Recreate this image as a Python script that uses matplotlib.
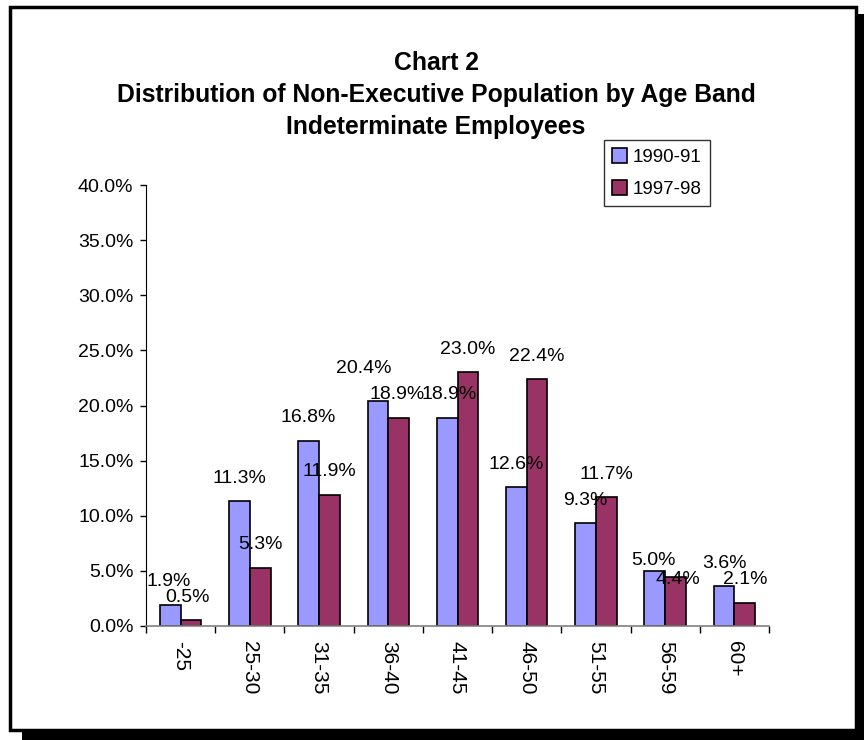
import matplotlib.pyplot as plt
import matplotlib.patches as patches
import numpy as np

plt.rcParams['font.family'] = ['Liberation Sans', 'DejaVu Sans']

bandes = ["-25", "25-30", "31-35", "36-40", "41-45", "46-50", "51-55", "56-59", "60+"]
pct_1990 = [1.9, 11.3, 16.8, 20.4, 18.9, 12.6, 9.3, 5.0, 3.6]
pct_1997 = [0.5, 5.3, 11.9, 18.9, 23.0, 22.4, 11.7, 4.4, 2.1]
series_noms = ["1990-91", "1997-98"]

# decalage des etiquettes (pixels) quand elles ne sont pas juste au-dessus de la barre
decal_1990 = {0: (-2, 24), 3: (-14, 33), 4: (2, 23), 7: (-1, 10)}
decal_1997 = {0: (-3, 23), 3: (-2, 23), 7: (2, -2)}

W, H = 864, 740
fig = plt.figure(figsize=(W / 100, H / 100), dpi=100)

# cadre avec ombre
fig.patches.append(patches.Rectangle((22 / W, 0), (W - 22) / W, 9 / H, transform=fig.transFigure,
                                     facecolor='black', edgecolor='none'))
fig.patches.append(patches.Rectangle((856 / W, 0), 8 / W, (H - 14) / H, transform=fig.transFigure,
                                     facecolor='black', edgecolor='none'))
fig.patches.append(patches.Rectangle((10 / W, 1 - 730 / H), 846 / W, 723 / H, transform=fig.transFigure,
                                     facecolor='none', edgecolor='black', linewidth=2.5))

ax = fig.add_axes([146 / W, 1 - 626 / H, (769 - 146) / W, (626 - 185) / H])

x = np.arange(len(bandes))
larg = 0.3
b1 = ax.bar(x - larg / 2, pct_1990, larg, color='#9999FF', edgecolor='black', linewidth=1.2, label=series_noms[0])
b2 = ax.bar(x + larg / 2, pct_1997, larg, color='#993366', edgecolor='black', linewidth=1.2, label=series_noms[1])

for serie, pos, decal in [(pct_1990, x - larg / 2, decal_1990), (pct_1997, x + larg / 2, decal_1997)]:
    for i in range(len(serie)):
        dx, dy = decal.get(i, (0, 23))
        ax.annotate("%.1f%%" % serie[i], (pos[i], serie[i]), xytext=(dx, dy), textcoords='offset pixels',
                    ha='center', va='center', fontsize=14)

ax.set_xlim(-0.5, len(bandes) - 0.5)
ax.set_ylim(0, 40)
ax.set_yticks(np.arange(0, 40.1, 5))
ax.set_yticklabels(["%.1f%%" % v for v in np.arange(0, 40.1, 5)], fontsize=14)
ax.set_xticks(np.arange(-0.5, len(bandes), 1))
ax.set_xticklabels([])
ax.set_xticks(x, minor=True)
ax.set_xticklabels(bandes, minor=True, rotation=-90, fontsize=15)
ax.tick_params(axis='x', which='minor', length=0, pad=11)
ax.tick_params(axis='x', which='major', length=5, width=1, color='black')
ax.tick_params(axis='y', length=4.5, width=1, pad=4.5)
ax.spines['top'].set_visible(False)
ax.spines['right'].set_visible(False)
ax.spines['bottom'].set_color('#808080')
ax.spines['bottom'].set_linewidth(1.2)

fig.text(436 / W, 1 - 95 / H, "Chart 2\nDistribution of Non-Executive Population by Age Band\nIndeterminate Employees",
         ha='center', va='center', fontsize=17.8, fontweight='bold', linespacing=1.42)

leg = fig.legend(loc='upper left', bbox_to_anchor=(604 / W, 1 - 140 / H), fontsize=13.5, frameon=True,
                 fancybox=False, edgecolor='black', handlelength=0.8, handleheight=0.8,
                 handletextpad=0.3, borderpad=0.45, labelspacing=0.75, borderaxespad=0)
leg.get_frame().set_linewidth(1)

fig.savefig('out.png', dpi=100)
